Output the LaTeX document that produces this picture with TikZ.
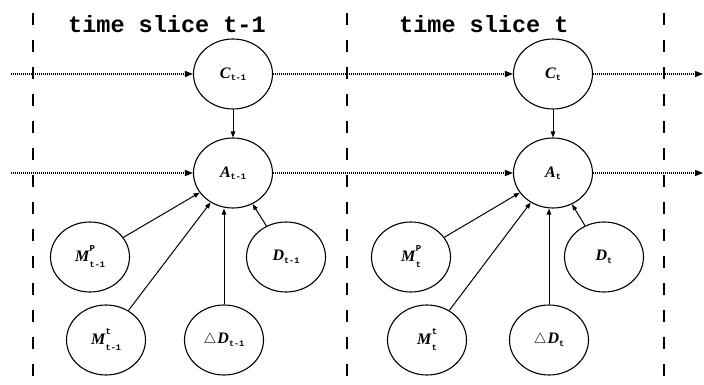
\documentclass[tikz,border=0pt]{standalone}
\usepackage{fontspec}
\usetikzlibrary{shapes.geometric,arrows.meta}
\newfontfamily\monofam{Liberation Mono}
\newfontfamily\serfam{Liberation Serif}
\newcommand\myLbf{\fontsize{16}{18}\selectfont\serfam\bfseries\itshape}
\newcommand\mySubf[1]{\mbox{\fontsize{8.5}{9}\selectfont\monofam\bfseries #1}}
\newcommand\mySupf[1]{\mbox{\fontsize{9}{9}\selectfont\monofam\bfseries #1}}
\newcommand\myVsub[2]{{\myLbf #1\/}\raisebox{-2.5pt}{\mySubf{#2}}}
\newcommand\myVsupsub[3]{{\myLbf #1\/}\rlap{\raisebox{10pt}{\mySupf{#2}}}\raisebox{-6pt}{\mySubf{#3}}}
\newcommand\myDlt{{\fontsize{14.4}{16}\selectfont$\bigtriangleup$}\kern1pt}
\begin{document}
\begin{tikzpicture}[x=1pt,y=-1pt,
  var/.style={ellipse,draw,line width=1.1pt,minimum width=79pt,minimum height=70pt,inner sep=0pt},
  slice/.style={line width=1.4pt,dash pattern=on 12pt off 15pt},
  dotarr/.style={line width=1.2pt,dash pattern=on 1.2pt off 0.8pt,-{Triangle[length=8pt,width=6pt]}},
  solarr/.style={line width=1pt,-{Triangle[length=6pt,width=4.5pt]}},
  title/.style={font=\fontsize{23.5}{26}\selectfont\monofam\bfseries,anchor=base west,inner sep=0pt}]
\useasboundingbox (0,0) rectangle (704,385);

% slice separators
\draw[slice] (33,13) -- (33,385);
\draw[slice] (347,13) -- (347,385);
\draw[slice] (664,13) -- (664,385);

% titles
\node[title] (t1) at (68,33) {time slice t-1};
\node[title] (t2) at (399,33) {time slice t};

% slice t-1
\node[var] (C1) at (233,74) {\myVsub{C}{t-1}};
\node[var] (A1) at (233,173) {\myVsub{A}{t-1}};
\node[var] (Mp1) at (90,257) {\myVsupsub{M}{P}{t-1}};
\node[var] (D1) at (286,257) {\myVsub{D}{t-1}};
\node[var] (Mt1) at (106,340) {\myVsupsub{M}{t}{t-1}};
\node[var] (dD1) at (224,340) {\myDlt\myVsub{D}{t-1}};

% slice t
\node[var] (C2) at (553,74) {\myVsub{C}{t}};
\node[var] (A2) at (553,173) {\myVsub{A}{t}};
\node[var] (Mp2) at (411,257) {\myVsupsub{M}{P}{t}};
\node[var] (D2) at (604,257) {\myVsub{D}{t}};
\node[var] (Mt2) at (427,340) {\myVsupsub{M}{t}{t}};
\node[var] (dD2) at (549,340) {\myDlt\myVsub{D}{t}};

% free ends
\coordinate (L1) at (11,74);
\coordinate (L2) at (11,173);
\coordinate (R1) at (703,74);
\coordinate (R2) at (703,173);

% temporal (dotted) arcs
\draw[dotarr] (L1) -- (C1);
\draw[dotarr] (C1) -- (C2);
\draw[dotarr] (C2) -- (R1);
\draw[dotarr] (L2) -- (A1);
\draw[dotarr] (A1) -- (A2);
\draw[dotarr] (A2) -- (R2);

% intra-slice arcs
\draw[solarr] (C1) -- (A1);
\draw[solarr] (Mp1) -- (A1);
\draw[solarr] (Mt1) -- (A1);
\draw[solarr] (D1) -- (A1);
\draw[solarr] (dD1.north) -- (dD1.north |- A1.south);

\draw[solarr] (C2) -- (A2);
\draw[solarr] (Mp2) -- (A2);
\draw[solarr] (Mt2) -- (A2);
\draw[solarr] (D2) -- (A2);
\draw[solarr] (dD2.north) -- (dD2.north |- A2.south);
\end{tikzpicture}
\end{document}
